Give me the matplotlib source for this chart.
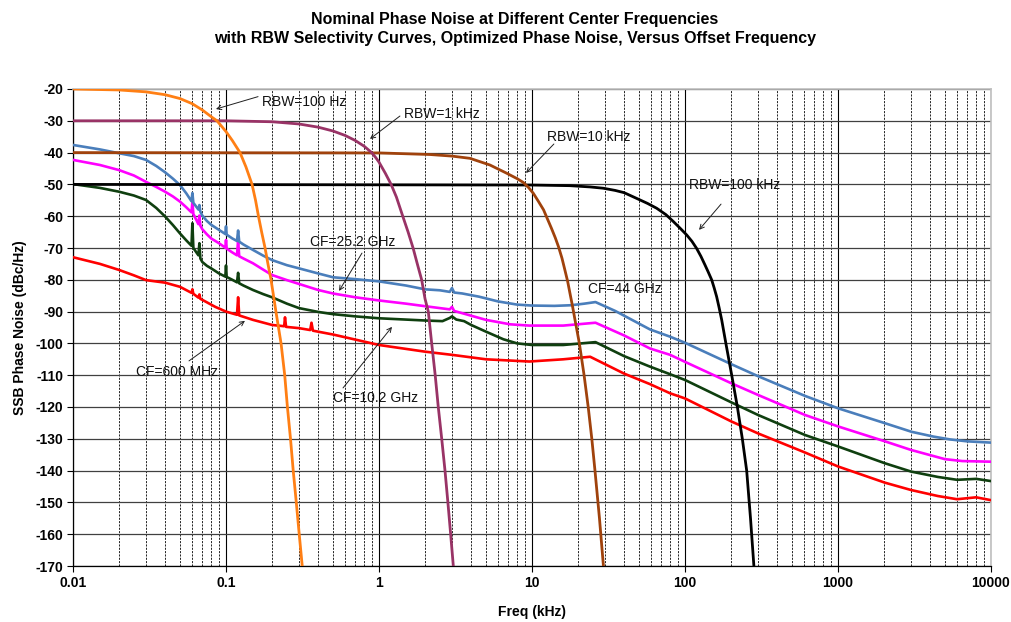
import matplotlib
matplotlib.use("Agg")
import matplotlib.pyplot as plt
from matplotlib.ticker import LogLocator, NullFormatter

plt.rcParams['font.family'] = ['Liberation Sans', 'DejaVu Sans']
plt.rcParams['axes.unicode_minus'] = False

# RBW selectivity curves: (offset kHz, dBc/Hz)
rbw_100hz = [(0.01, -20), (0.02, -20.3), (0.03, -20.9), (0.04, -21.8), (0.05, -23),
             (0.06, -24.6), (0.07, -26.6), (0.08, -28.7), (0.0873, -30), (0.095, -32.1),
             (0.1, -33.4), (0.11, -36.2), (0.1235, -40), (0.135, -44.5), (0.148, -50),
             (0.156, -55), (0.163, -60), (0.171, -65), (0.18, -70), (0.188, -75),
             (0.197, -80), (0.212, -90), (0.229, -100), (0.242, -110), (0.252, -120),
             (0.264, -130), (0.275, -140), (0.288, -150), (0.301, -160), (0.315, -170)]
rbw_1khz = [(0.01, -30), (0.1, -30), (0.2, -30.3), (0.3, -31), (0.4, -32), (0.5, -33.2),
            (0.6, -34.6), (0.7, -36.2), (0.8, -38), (0.895, -40), (0.95, -41.5), (1.0, -43),
            (1.1, -46.5), (1.2, -50), (1.3, -54), (1.43, -60), (1.55, -65), (1.67, -70),
            (1.78, -75), (1.9, -80), (2.0, -86), (2.1, -90), (2.21, -100), (2.33, -110),
            (2.44, -120), (2.57, -130), (2.70, -140), (2.82, -150), (2.94, -160), (3.06, -170)]
rbw_10khz = [(0.01, -40), (1.0, -40.1), (2.15, -40.6), (3.0, -41.1), (3.93, -41.8),
             (5.31, -43.9), (6.84, -46.5), (8.0, -48.2), (8.78, -49.4), (9.5, -51),
             (10.2, -52.8), (11.0, -55.3), (11.9, -58), (12.6, -60.8), (13.4, -63.8),
             (14.2, -66.8), (14.9, -69.6), (15.7, -73.2), (16.4, -76.9), (17.1, -80.5),
             (17.7, -84.2), (18.4, -88.3), (19.1, -92.6), (20.4, -100), (21.9, -110),
             (23.3, -120), (24.6, -130), (25.8, -140), (27.6, -155), (29.3, -170)]
rbw_100khz = [(0.01, -50), (10, -50.2), (17.7, -50.4), (24, -50.8), (29.2, -51.2),
              (35, -51.9), (40, -52.6), (48.3, -54.4), (57, -56), (65.3, -57.5), (75, -59.5),
              (84, -61.7), (93, -63.8), (102.6, -65.9), (111, -67.9), (119, -70.1),
              (127, -72.6), (135, -75.3), (142, -77.6), (149.4, -80), (155, -82.5),
              (161, -85.3), (167, -88.7), (173.7, -92.6), (185, -100), (202, -110),
              (220, -120), (237, -130), (253, -140), (268, -155), (282, -170)]

# Phase noise at the four center frequencies
cf_44ghz = [(0.01, -37.6), (0.015, -39), (0.02, -40.2), (0.025, -41.1), (0.03, -42.3),
            (0.035, -44.2), (0.04, -46.2), (0.045, -48.2), (0.05, -50.2), (0.055, -52.8),
            (0.0595, -55.3), (0.0603, -52.7), (0.0612, -55.8), (0.066, -57.9), (0.067, -56.5),
            (0.068, -58.6), (0.07, -59.8), (0.075, -61.5), (0.08, -62.7), (0.09, -64.3),
            (0.099, -65.6), (0.1, -63.2), (0.101, -65.8), (0.11, -67), (0.118, -67.8),
            (0.12, -64.5), (0.122, -68.0), (0.13, -68.9), (0.15, -70.6), (0.175, -72.4),
            (0.2, -73.8), (0.25, -75.4), (0.3, -76.4), (0.4, -78), (0.5, -79.2), (0.7, -79.8),
            (1.0, -80.5), (1.5, -81.8), (2.0, -83), (2.5, -83.3), (2.9, -83.8), (3.0, -82.6),
            (3.1, -84), (3.5, -84.3), (4.5, -85.3), (6.0, -86.8), (8.0, -87.8), (10, -88.1),
            (14, -88.2), (18, -88), (22, -87.5), (26, -87), (35, -89.8), (59, -95.6),
            (80, -97.9), (100, -99.8), (200, -106.5), (300, -110.3), (608, -116.5),
            (1000, -120.4), (2028, -125.1), (3027, -127.8), (4200, -129.3), (5400, -130.2),
            (7000, -130.8), (10000, -131.2)]
cf_25ghz = [(0.01, -42.3), (0.015, -43.9), (0.02, -45.5), (0.025, -47.2), (0.03, -49.2),
            (0.035, -50.8), (0.04, -52.3), (0.045, -53.8), (0.05, -55.4), (0.055, -57.2),
            (0.0595, -58.8), (0.0603, -55.5), (0.0612, -59.3), (0.066, -62.5), (0.067, -59.8),
            (0.068, -63), (0.07, -64.1), (0.075, -65.7), (0.08, -67), (0.09, -68.5),
            (0.099, -69.9), (0.1, -67.5), (0.101, -70.2), (0.11, -71.4), (0.118, -72.3),
            (0.12, -67.5), (0.122, -72.6), (0.13, -73.3), (0.15, -74.8), (0.175, -76.8),
            (0.2, -78.5), (0.25, -80.1), (0.3, -81.3), (0.4, -83.2), (0.5, -84.3), (0.7, -85.5),
            (1.0, -86.5), (1.5, -87.5), (2.0, -88.3), (2.9, -89.3), (3.0, -88.5), (3.1, -89.8),
            (3.5, -90.5), (5.0, -92.6), (7.2, -94), (9.6, -94.4), (16, -94.4), (26, -93.5),
            (40, -97.5), (59, -101.6), (80, -103.6), (100, -105.8), (200, -112.5), (300, -116.2),
            (608, -122.5), (1000, -126.1), (2028, -130.8), (3000, -133.5), (5000, -136.4),
            (6500, -137), (10000, -137.2)]
cf_10ghz = [(0.01, -49.9), (0.015, -51.1), (0.02, -52.3), (0.025, -53.5), (0.03, -54.9),
            (0.035, -57.4), (0.04, -60.1), (0.045, -62.8), (0.05, -65.4), (0.055, -67.6),
            (0.0595, -69.3), (0.0603, -62.2), (0.0612, -70), (0.066, -72.3), (0.067, -68.5),
            (0.068, -73.3), (0.07, -74.4), (0.075, -75.6), (0.08, -76.4), (0.09, -78),
            (0.099, -79), (0.1, -75.5), (0.101, -79.1), (0.11, -80), (0.118, -80.8),
            (0.12, -77.8), (0.122, -81.1), (0.13, -81.8), (0.15, -83.2), (0.175, -84.5),
            (0.2, -85.5), (0.25, -87.5), (0.3, -88.9), (0.4, -90.1), (0.5, -90.8), (0.7, -91.5),
            (1.0, -92.1), (2.0, -92.8), (2.6, -93), (2.9, -92), (3.0, -91.5), (3.2, -92.5),
            (3.6, -93), (4.0, -94.2), (5.0, -96.3), (6.5, -98.7), (8.0, -100), (10, -100.5),
            (16, -100.5), (26, -99.6), (40, -104), (59, -107.3), (80, -109.7), (100, -111.5),
            (200, -118.5), (300, -122.5), (608, -128.8), (1000, -132.4), (2028, -137.7),
            (3000, -140.3), (4500, -142), (6000, -142.9), (8000, -142.6), (10000, -143.3)]
cf_600mhz = [(0.01, -72.9), (0.015, -75), (0.02, -76.9), (0.025, -78.6), (0.03, -80.1),
             (0.04, -80.9), (0.05, -82.2), (0.0595, -84.1), (0.0603, -83.0), (0.0612, -84.4),
             (0.066, -85.6), (0.067, -84.6), (0.068, -86), (0.07, -86.3), (0.085, -88.5),
             (0.1, -90), (0.118, -91), (0.12, -85.5), (0.122, -91.2), (0.15, -92.6),
             (0.2, -94.2), (0.24, -94.6), (0.243, -91.8), (0.247, -94.8), (0.3, -95.2),
             (0.355, -95.8), (0.362, -93.5), (0.37, -96), (0.5, -97.2), (0.7, -98.8),
             (1.0, -100.5), (2.0, -102.6), (3.0, -103.6), (5.0, -105), (9.6, -105.7),
             (16, -105), (24, -104.2), (40, -109.5), (59, -112.8), (80, -115.7), (100, -117.3),
             (200, -124.5), (300, -128.3), (608, -134.3), (1000, -138.7), (2028, -143.8),
             (3000, -146.1), (4500, -148), (6000, -149), (8000, -148.4), (10000, -149.3)]

y_ticks = list(range(-170, -19, 10))
x_ticks = [0.01, 0.1, 1, 10, 100, 1000, 10000]
x_tick_labels = ['0.01', '0.1', '1', '10', '100', '1000', '10000']

fig = plt.figure(figsize=(10.11, 6.22), dpi=100)
ax = fig.add_axes([73 / 1011, 1 - 566 / 622, 918 / 1011, 477 / 622])


def draw(curve, color, lw, z):
    f, v = zip(*curve)
    ax.plot(f, v, color=color, lw=lw, zorder=z, solid_joinstyle='round')


# phase noise first, RBW curves on top
draw(cf_600mhz, '#FF0000', 1.9, 3)
draw(cf_10ghz, '#0F3F0F', 1.9, 3)
draw(cf_25ghz, '#FF00FF', 1.9, 3)
draw(cf_44ghz, '#4A7EBB', 1.9, 3)
draw(rbw_100khz, '#000000', 2.0, 4)
draw(rbw_10khz, '#A0420C', 2.0, 4)
draw(rbw_1khz, '#993366', 2.0, 4)
draw(rbw_100hz, '#FF7F14', 2.0, 4)

ax.set_xscale('log')
ax.set_xlim(0.01, 10000)
ax.set_ylim(-170, -20)
ax.set_yticks(y_ticks)
ax.set_xticks(x_ticks)
ax.set_xticklabels(x_tick_labels)
ax.xaxis.set_minor_locator(LogLocator(base=10, subs=range(2, 10), numticks=20))
ax.xaxis.set_minor_formatter(NullFormatter())
ax.tick_params(axis='x', which='minor', length=0)
ax.tick_params(axis='both', which='major', length=4, width=0.8, direction='out',
               labelsize=10, pad=3)
for lab in ax.get_xticklabels() + ax.get_yticklabels():
    lab.set_fontweight('bold')

ax.grid(which='major', axis='x', color='#000000', lw=0.8, ls='-')
ax.grid(which='minor', axis='x', color='#000000', lw=0.6, ls=(0, (2.5, 1.5)))
ax.grid(which='major', axis='y', color='#404040', lw=0.9, ls='-')
ax.set_axisbelow(True)

for side in ('top', 'right'):
    ax.spines[side].set_color('#BFBFBF')
    ax.spines[side].set_linewidth(1.2)
for side in ('left', 'bottom'):
    ax.spines[side].set_color('#000000')
    ax.spines[side].set_linewidth(0.9)

ax.set_xlabel('Freq (kHz)', fontsize=10, fontweight='bold', labelpad=11)
ax.set_ylabel('SSB Phase Noise (dBc/Hz)', fontsize=10, fontweight='bold', labelpad=6)

fig.text(0.509, 0.953,
         'Nominal Phase Noise at Different Center Frequencies\n'
         'with RBW Selectivity Curves, Optimized Phase Noise, Versus Offset Frequency',
         ha='center', va='center', fontsize=11.5, fontweight='bold', linespacing=1.35)

arrow = dict(arrowstyle='->', color='#202020', lw=0.7, shrinkA=0, shrinkB=0,
             mutation_scale=8)
notes = [
    ('RBW=100 Hz', (0.086, -26.3), (0.172, -24.0), (0.162, -22.4)),
    ('RBW=1 kHz', (0.873, -35.7), (1.46, -27.9), (1.37, -28.5)),
    ('RBW=10 kHz', (9.14, -46.4), (12.5, -35.0), (13.9, -37.3)),
    ('RBW=100 kHz', (123.5, -64.3), (106, -50.2), (172, -56.2)),
    ('CF=25.2 GHz', (0.548, -83.5), (0.354, -68.0), (0.774, -71.6)),
    ('CF=600 MHz', (0.133, -92.9), (0.0258, -108.9), (0.0573, -105.5)),
    ('CF=10.2 GHz', (1.216, -94.8), (0.50, -117.2), (0.582, -114.0)),
]
for text, tip, pos, tail in notes:
    ax.text(pos[0], pos[1], text, fontsize=10, ha='left', va='center', zorder=6,
            color='#111111')
    ax.annotate('', xy=tip, xytext=tail, arrowprops=arrow, zorder=6)
ax.text(23.2, -82.9, 'CF=44 GHz', fontsize=10, ha='left', va='center', zorder=6,
        color='#111111')

fig.savefig('out.png', dpi=100)
